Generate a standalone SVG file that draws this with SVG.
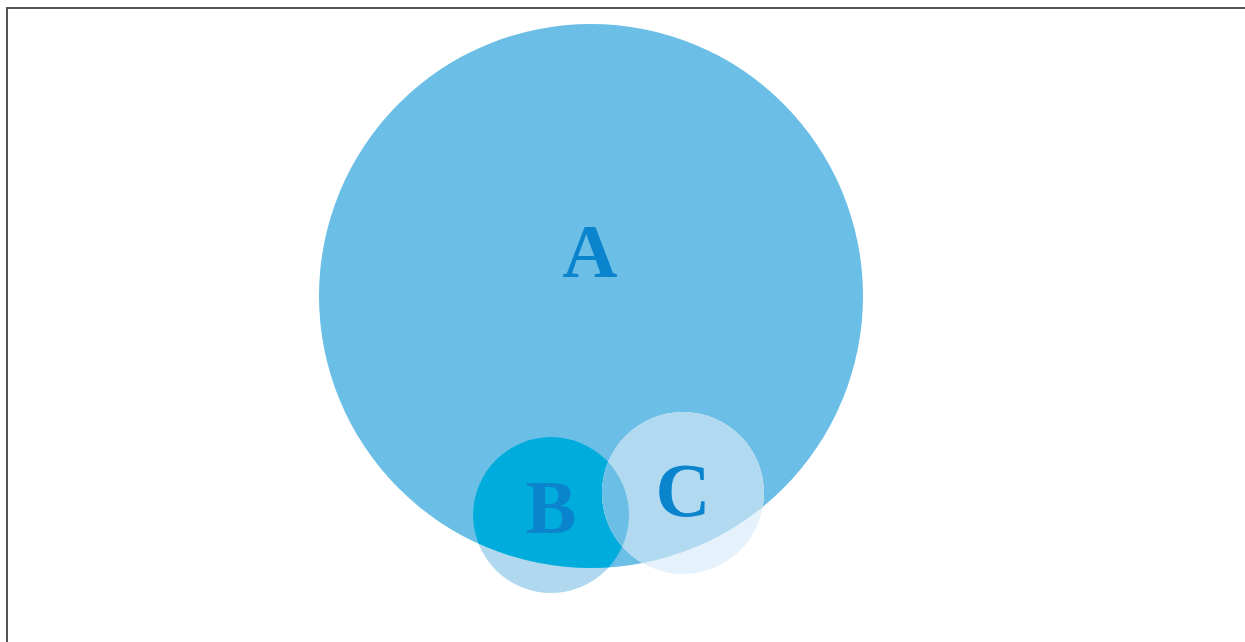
<svg xmlns="http://www.w3.org/2000/svg" width="1245" height="642" viewBox="0 0 1245 642">
<style>
.lbl{font-family:'Liberation Serif','Times New Roman',Times,serif;font-weight:700;font-size:76px;fill:#0a84cc;text-anchor:middle}
</style>
<defs>
<clipPath id="clipA"><circle cx="591" cy="296" r="272"/></clipPath>
<clipPath id="clipB"><circle cx="551" cy="515" r="78"/></clipPath>
</defs>
<rect x="7" y="8" width="1260" height="660" fill="#fff" stroke="#555" stroke-width="2"/>
<g id="nodeA">
<circle cx="591" cy="296" r="272" fill="#6bbee6"/>
</g>
<g id="nodeB">
<circle cx="551" cy="515" r="78" fill="#b0d9f0"/>
<circle cx="551" cy="515" r="78" fill="#00acdc" clip-path="url(#clipA)"/>
</g>
<g id="nodeC">
<circle cx="683" cy="493" r="81" fill="#e6f2fb"/>
<circle cx="683" cy="493" r="81" fill="#b1daf0" clip-path="url(#clipA)"/>
<circle cx="683" cy="493" r="81" fill="#6bbee6" clip-path="url(#clipB)"/>
</g>
<g id="labels">
<text class="lbl" x="590" y="277">A</text>
<text class="lbl" x="551" y="533">B</text>
<text class="lbl" x="683" y="516">C</text>
</g>
<g id="connectors"/>
</svg>
